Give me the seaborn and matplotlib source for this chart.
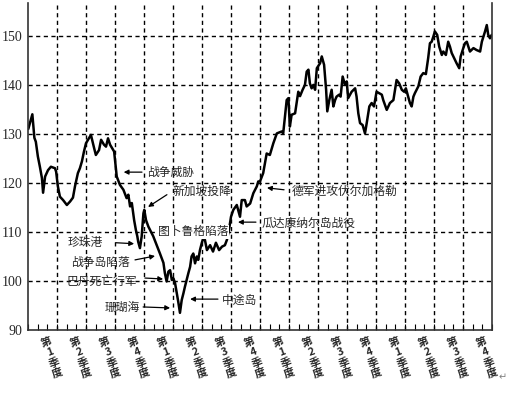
import matplotlib
matplotlib.use("Agg")
import matplotlib.pyplot as plt
import seaborn as sns
import pandas as pd
import numpy as np

# x position in quarters since start (0..16), index value
quarter_pos = [0.01, 0.15, 0.22, 0.27, 0.34, 0.41, 0.48, 0.52, 0.59, 0.69, 0.79, 0.93, 0.97,
               1.03, 1.10, 1.21, 1.34, 1.45, 1.55, 1.62, 1.72, 1.79, 1.86, 1.93,
               2.00, 2.10, 2.17, 2.21, 2.28, 2.34, 2.45, 2.52, 2.62, 2.69, 2.76, 2.83, 2.90, 2.97,
               3.06, 3.17, 3.29, 3.40, 3.46, 3.52, 3.58, 3.66, 3.72, 3.77, 3.80, 3.86, 3.92, 3.98,
               4.01, 4.07, 4.15, 4.21, 4.32, 4.44, 4.55, 4.67, 4.72, 4.78, 4.84, 4.90, 4.96,
               5.01, 5.07, 5.13, 5.18, 5.24, 5.30, 5.36, 5.41, 5.47, 5.53, 5.59, 5.64, 5.70, 5.76,
               5.82, 5.87, 5.93, 5.99, 6.04, 6.10, 6.17, 6.28, 6.38, 6.48, 6.59, 6.69, 6.79, 6.86,
               6.93, 7.00, 7.08, 7.20, 7.31, 7.37, 7.48, 7.54, 7.66, 7.77, 7.89, 7.94,
               8.00, 8.11, 8.23, 8.34, 8.46, 8.58, 8.75, 8.80, 8.92, 8.98,
               9.03, 9.09, 9.21, 9.32, 9.38, 9.47, 9.55, 9.61, 9.67, 9.72, 9.78, 9.84, 9.90, 9.96,
               10.07, 10.13, 10.21, 10.28, 10.32, 10.39, 10.47, 10.53, 10.59, 10.64, 10.73, 10.78,
               10.85, 10.93, 10.99, 11.04, 11.16, 11.28, 11.33, 11.39, 11.45, 11.54, 11.62, 11.68,
               11.77, 11.85, 11.93, 12.02, 12.11, 12.20, 12.25, 12.37, 12.48, 12.60, 12.71, 12.80,
               12.89, 12.97, 13.03, 13.11, 13.17, 13.23, 13.29, 13.34, 13.46, 13.54, 13.63, 13.72,
               13.80, 13.86, 13.92, 13.98, 14.03, 14.11, 14.18, 14.27, 14.32, 14.41, 14.49, 14.55,
               14.61, 14.69, 14.78, 14.87, 14.92, 15.01, 15.07, 15.13, 15.24, 15.36, 15.47, 15.59,
               15.65, 15.76, 15.82, 15.87, 15.93, 15.99]
index_value = [131.0, 134.0, 129.2, 128.4, 125.4, 123.3, 121.0, 118.0, 121.3, 122.6, 123.3, 123.0, 122.3,
               119.3, 117.2, 116.5, 115.5, 116.2, 117.0, 119.3, 122.0, 123.0, 124.4, 126.4,
               128.1, 129.1, 129.8, 128.8, 127.1, 125.7, 126.7, 128.8, 127.8, 127.4, 129.1, 127.8, 127.1, 126.4,
               121.3, 119.6, 118.6, 116.9, 117.6, 115.2, 115.9, 112.4, 110.4, 109.1, 108.0, 106.7, 109.1, 113.8,
               114.5, 112.4, 111.1, 110.4, 109.1, 107.3, 105.6, 103.7, 101.6, 99.9, 101.9, 102.2, 100.2,
               100.6, 99.6, 97.5, 95.8, 93.5, 96.1, 97.5, 98.8, 100.2, 101.6, 102.9, 105.0, 105.6, 103.6,
               105.0, 104.3, 106.3, 107.7, 108.7, 108.4, 106.3, 107.3, 106.0, 107.8, 106.3, 107.0, 107.3, 108.4,
               110.4, 113.1, 114.5, 115.5, 113.1, 116.5, 116.5, 115.2, 115.8, 117.9, 119.3, 120.3,
               120.3, 122.0, 126.0, 125.7, 128.1, 130.1, 130.5, 130.1, 136.9, 137.3,
               131.5, 133.9, 134.2, 138.6, 137.7, 139.0, 140.0, 142.7, 143.1, 140.3, 139.3, 140.0, 139.0, 143.4,
               144.4, 145.8, 144.1, 139.0, 134.6, 136.9, 139.0, 135.6, 136.9, 137.6, 138.0, 137.6,
               141.7, 140.0, 140.7, 137.3, 138.6, 139.3, 137.6, 134.2, 132.2, 131.8, 130.1, 132.2,
               135.6, 136.3, 135.6, 138.6, 138.3, 138.0, 136.9, 134.9, 136.3, 136.9, 141.0, 140.3,
               139.0, 138.6, 139.3, 137.6, 136.3, 135.6, 137.6, 138.3, 139.7, 141.7, 142.4, 142.2,
               145.5, 148.5, 148.8, 149.9, 150.9, 150.2, 147.8, 146.1, 146.8, 146.1, 148.8, 147.8,
               146.5, 145.5, 144.4, 143.4, 145.8, 147.5, 148.5, 148.8, 146.8, 147.5, 147.1, 146.8,
               148.8, 150.9, 152.2, 150.2, 149.5, 150.2]

y_ticks = [90, 100, 110, 120, 130, 140, 150]
quarter_labels = ["第\n1\n季\n度", "第\n2\n季\n度", "第\n3\n季\n度", "第\n4\n季\n度"] * 4

# annotations: text, text anchor (x, y), ha, arrow start, arrow tip (None if no arrow)
ann_text = ["战争威胁", "新加坡投降", "图卜鲁格陷落", "珍珠港", "战争岛陷落",
            "巴丹死亡行军", "珊瑚海", "中途岛", "瓜达康纳尔岛战役", "德军进攻伏尔加格勒"]
ann_xy = [(4.10, 122.2), (5.0, 118.2), (4.48, 110.0), (2.59, 107.8), (3.52, 103.7),
          (3.76, 100.0), (3.86, 94.7), (6.69, 96.1), (8.07, 111.8), (9.10, 118.2)]
ann_ha = ["left", "left", "left", "right", "right", "right", "right", "left", "left", "left"]
arrow_from = [(3.93, 122.2), (4.79, 117.6), None, (3.03, 107.8), (3.69, 104.3),
              (4.03, 100.6), (3.97, 94.7), (6.55, 96.3), (7.86, 112.0), (8.83, 118.6)]
arrow_to = [(3.30, 122.2), (4.14, 115.1), None, (3.66, 107.6), (4.38, 105.1),
            (4.66, 100.4), (4.90, 94.5), (5.59, 96.3), (7.24, 112.0), (8.24, 119.0)]

df = pd.DataFrame({"q": quarter_pos, "v": index_value})

sns.set_style("white")
plt.rcParams['font.family'] = ['Noto Sans CJK SC', 'DejaVu Sans']

fig = plt.figure(figsize=(5.13, 3.99), dpi=100)
ax = fig.add_axes([28/513, 69/399, 464/513, 327/399])

sns.lineplot(data=df, x="q", y="v", ax=ax, color="black", linewidth=1.8, estimator=None, sort=False)

ax.set_xlim(0, 16)
ax.set_ylim(90, 156.7)
ax.set_xlabel("")
ax.set_ylabel("")

# grid
ax.set_xticks(range(0, 17))
ax.set_xticks(np.arange(0, 16.01, 1/3), minor=True)
ax.set_yticks(y_ticks)
ax.set_yticklabels([str(t) for t in y_ticks], family="Liberation Serif", fontsize=10)
ax.set_xticklabels([])
for q in range(1, 16):
    ax.axvline(q, color="black", lw=1.0, ls=(0, (3, 2.5)), zorder=0)
for t in y_ticks[1:]:
    ax.axhline(t, color="black", lw=1.0, ls=(0, (3, 2.5)), zorder=0)

ax.tick_params(axis="x", which="both", direction="in", length=4, width=0.8, color="black", bottom=True)
ax.tick_params(axis="y", which="both", length=0, pad=4)

for s in ["left", "bottom", "right"]:
    ax.spines[s].set_visible(True)
    ax.spines[s].set_color("#333333")
    ax.spines[s].set_linewidth(1.2)
ax.spines["top"].set_visible(False)

# quarter labels
for i, lab in enumerate(quarter_labels):
    ax.annotate(lab, xy=(i + 0.84, 0), xycoords=("data", "axes fraction"),
                xytext=(0, -20), textcoords="offset points",
                ha="center", va="center", rotation=20, fontsize=7.8,
                linespacing=1.1, fontweight="bold")
ax.annotate("↵", xy=(1.0, 0), xycoords="axes fraction", xytext=(5, -34),
            textcoords="offset points", fontsize=7, color="gray",
            family=["DejaVu Sans"], ha="left", va="center")

# event annotations
for txt, xy, ha, a0, a1 in zip(ann_text, ann_xy, ann_ha, arrow_from, arrow_to):
    ax.text(xy[0], xy[1], txt, ha=ha, va="center", fontsize=8.5,
            bbox=dict(facecolor="white", edgecolor="none", pad=0.5) if txt == "图卜鲁格陷落" else None)
    if a0 is not None:
        ax.annotate("", xy=a1, xytext=a0,
                    arrowprops=dict(arrowstyle="-|>", color="black", lw=0.9,
                                    mutation_scale=7, shrinkA=0, shrinkB=0))

fig.savefig("out.png", dpi=100)
